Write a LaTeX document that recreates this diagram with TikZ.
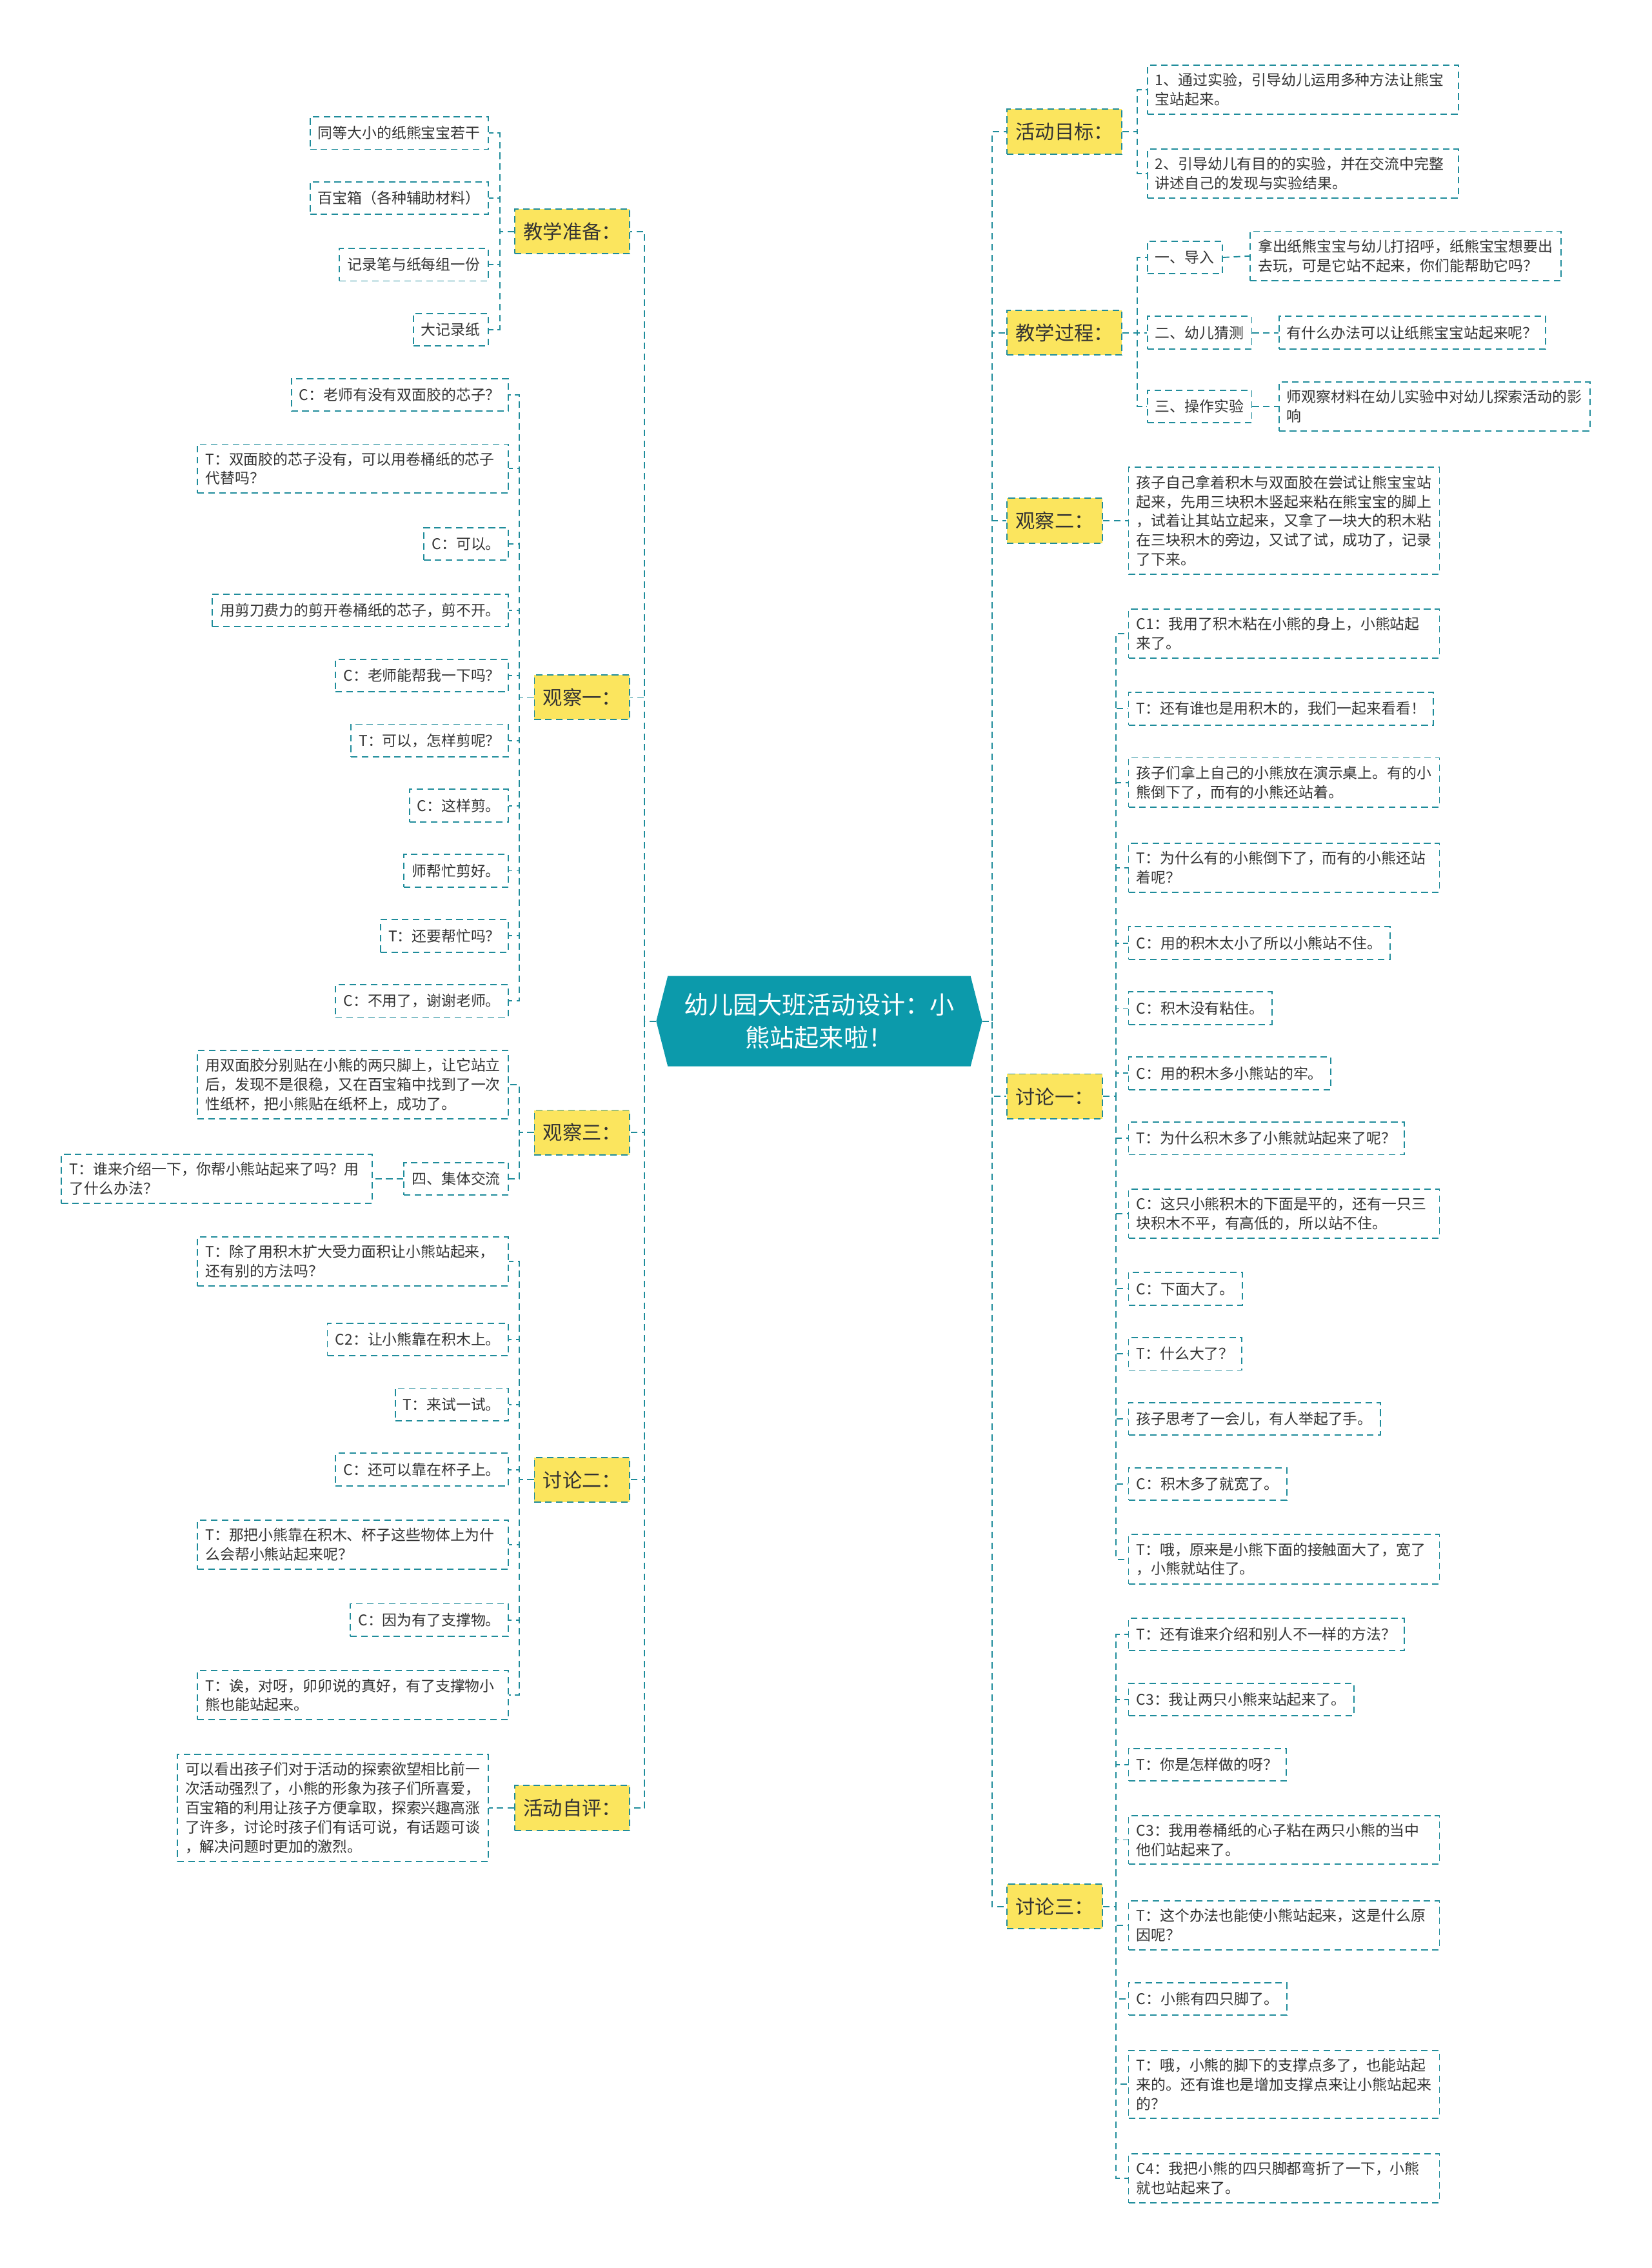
\documentclass[tikz,border=0pt]{standalone}
\usepackage{fontspec}
\newfontfamily\cjk{Noto Sans CJK SC}
\usetikzlibrary{backgrounds,calc}
\definecolor{ln}{HTML}{1F8C9B}
\definecolor{yel}{HTML}{FBE55E}
\definecolor{hub}{HTML}{0C9AAB}
\definecolor{txt}{HTML}{333333}
\begin{document}
\begin{tikzpicture}[x=1pt,y=-1pt,
 conn/.style={draw=ln, line width=0.85pt, dash pattern=on 4.5pt off 3pt},
 leaf/.style={draw=ln, line width=0.85pt, dash pattern=on 4.5pt off 3pt, font=\cjk\fontsize{10.2}{13.3}\selectfont, text=txt, inner xsep=5.5pt, inner ysep=5.5pt, minimum height=22.5pt, align=left},
 wide/.style={leaf, text width=204pt},
 topic/.style={draw=ln, fill=yel, line width=0.85pt, dash pattern=on 4.5pt off 3pt, font=\cjk\fontsize{13.5}{16}\selectfont, text=txt, inner xsep=6pt, minimum height=31pt},
 hubnode/.style={font=\cjk\fontsize{17}{23}\selectfont, text=white, align=center, minimum width=209pt, minimum height=62pt, inner sep=0pt},
 lft/.style={anchor=east}, rgt/.style={anchor=west}
]
\useasboundingbox (0,0) rectangle (1142,1568);

% hub
\node[hubnode] (root) at (566.5,706) {幼儿园大班活动设计：小\\熊站起来啦！};
\begin{scope}[on background layer]
\fill[hub] (root.north west) -- (root.north east) -- ($(root.east)+(8,0)$) -- (root.south east) -- (root.south west) -- ($(root.west)+(-8,0)$) -- cycle;
\end{scope}
\coordinate (rootL) at ($(root.west)+(-8,0)$);
\coordinate (rootR) at ($(root.east)+(8,0)$);

% left topics
\node[topic,lft] (L1) at (436,160) {教学准备：};
\node[topic,lft] (L2) at (436,482) {观察一：};
\node[topic,lft] (L3) at (436,783) {观察三：};
\node[topic,lft] (L4) at (436,1023) {讨论二：};
\node[topic,lft] (L5) at (436,1250) {活动自评：};
% right topics
\node[topic,rgt] (R1) at (696,91) {活动目标：};
\node[topic,rgt] (R2) at (696,230) {教学过程：};
\node[topic,rgt] (R3) at (696,360) {观察二：};
\node[topic,rgt] (R4) at (696,758) {讨论一：};
\node[topic,rgt] (R5) at (696,1318) {讨论三：};

% L1 children
\node[leaf,lft] (a1) at (338,92) {同等大小的纸熊宝宝若干};
\node[leaf,lft] (a2) at (338,137) {百宝箱（各种辅助材料）};
\node[leaf,lft] (a3) at (338,183) {记录笔与纸每组一份};
\node[leaf,lft] (a4) at (338,228) {大记录纸};
% L2 children
\node[leaf,lft] (b1) at (352,273) {C：老师有没有双面胶的芯子？};
\node[wide,lft] (b2) at (352,324) {T：双面胶的芯子没有，可以用卷桶纸的芯子\\代替吗？};
\node[leaf,lft] (b3) at (352,376) {C：可以。};
\node[leaf,lft] (b4) at (352,422) {用剪刀费力的剪开卷桶纸的芯子，剪不开。};
\node[leaf,lft] (b5) at (352,467) {C：老师能帮我一下吗？};
\node[leaf,lft] (b6) at (352,512) {T：可以，怎样剪呢？};
\node[leaf,lft] (b7) at (352,557) {C：这样剪。};
\node[leaf,lft] (b8) at (352,602) {师帮忙剪好。};
\node[leaf,lft] (b9) at (352,647) {T：还要帮忙吗？};
\node[leaf,lft] (b10) at (352,692) {C：不用了，谢谢老师。};
% L3 children
\node[wide,lft] (c1) at (352,750) {用双面胶分别贴在小熊的两只脚上，让它站立\\后，发现不是很稳，又在百宝箱中找到了一次\\性纸杯，把小熊贴在纸杯上，成功了。};
\node[leaf,lft] (c2) at (352,815) {四、集体交流};
\node[wide,lft] (c3) at (258,815) {T：谁来介绍一下，你帮小熊站起来了吗？用\\了什么办法？};
% L4 children
\node[wide,lft] (d1) at (352,872) {T：除了用积木扩大受力面积让小熊站起来，\\还有别的方法吗？};
\node[leaf,lft] (d2) at (352,926) {C2：让小熊靠在积木上。};
\node[leaf,lft] (d3) at (352,971) {T：来试一试。};
\node[leaf,lft] (d4) at (352,1016) {C：还可以靠在杯子上。};
\node[wide,lft] (d5) at (352,1068) {T：那把小熊靠在积木、杯子这些物体上为什\\么会帮小熊站起来呢？};
\node[leaf,lft] (d6) at (352,1120) {C：因为有了支撑物。};
\node[wide,lft] (d7) at (352,1172) {T：诶，对呀，卯卯说的真好，有了支撑物小\\熊也能站起来。};
% L5 child
\node[wide,lft] (e1) at (338,1250) {可以看出孩子们对于活动的探索欲望相比前一\\次活动强烈了，小熊的形象为孩子们所喜爱，\\百宝箱的利用让孩子方便拿取，探索兴趣高涨\\了许多，讨论时孩子们有话可说，有话题可谈\\，解决问题时更加的激烈。};

% R1 children
\node[wide,rgt] (f1) at (793,62) {1、通过实验，引导幼儿运用多种方法让熊宝\\宝站起来。};
\node[wide,rgt] (f2) at (793,120) {2、引导幼儿有目的的实验，并在交流中完整\\讲述自己的发现与实验结果。};
% R2 children
\node[leaf,rgt] (g1) at (793,178) {一、导入};
\node[wide,rgt] (g1a) at (864,177) {拿出纸熊宝宝与幼儿打招呼，纸熊宝宝想要出\\去玩，可是它站不起来，你们能帮助它吗？};
\node[leaf,rgt] (g2) at (793,230) {二、幼儿猜测};
\node[leaf,rgt] (g2a) at (884,230) {有什么办法可以让纸熊宝宝站起来呢？};
\node[leaf,rgt] (g3) at (793,281) {三、操作实验};
\node[wide,rgt] (g3a) at (884,281) {师观察材料在幼儿实验中对幼儿探索活动的影\\响};
% R3 child
\node[wide,rgt] (h1) at (780,360) {孩子自己拿着积木与双面胶在尝试让熊宝宝站\\起来，先用三块积木竖起来粘在熊宝宝的脚上\\，试着让其站立起来，又拿了一块大的积木粘\\在三块积木的旁边，又试了试，成功了，记录\\了下来。};
% R4 children
\node[wide,rgt] (i1) at (780,438) {C1：我用了积木粘在小熊的身上，小熊站起\\来了。};
\node[leaf,rgt] (i2) at (780,490) {T：还有谁也是用积木的，我们一起来看看！};
\node[wide,rgt] (i3) at (780,541) {孩子们拿上自己的小熊放在演示桌上。有的小\\熊倒下了，而有的小熊还站着。};
\node[wide,rgt] (i4) at (780,600) {T：为什么有的小熊倒下了，而有的小熊还站\\着呢？};
\node[leaf,rgt] (i5) at (780,652) {C：用的积木太小了所以小熊站不住。};
\node[leaf,rgt] (i6) at (780,697) {C：积木没有粘住。};
\node[leaf,rgt] (i7) at (780,742) {C：用的积木多小熊站的牢。};
\node[leaf,rgt] (i8) at (780,787) {T：为什么积木多了小熊就站起来了呢？};
\node[wide,rgt] (i9) at (780,839) {C：这只小熊积木的下面是平的，还有一只三\\块积木不平，有高低的，所以站不住。};
\node[leaf,rgt] (i10) at (780,891) {C：下面大了。};
\node[leaf,rgt] (i11) at (780,936) {T：什么大了？};
\node[leaf,rgt] (i12) at (780,981) {孩子思考了一会儿，有人举起了手。};
\node[leaf,rgt] (i13) at (780,1026) {C：积木多了就宽了。};
\node[wide,rgt] (i14) at (780,1078) {T：哦，原来是小熊下面的接触面大了，宽了\\，小熊就站住了。};
% R5 children
\node[leaf,rgt] (j1) at (780,1130) {T：还有谁来介绍和别人不一样的方法？};
\node[leaf,rgt] (j2) at (780,1175) {C3：我让两只小熊来站起来了。};
\node[leaf,rgt] (j3) at (780,1220) {T：你是怎样做的呀？};
\node[wide,rgt] (j4) at (780,1272) {C3：我用卷桶纸的心子粘在两只小熊的当中\\他们站起来了。};
\node[wide,rgt] (j5) at (780,1331) {T：这个办法也能使小熊站起来，这是什么原\\因呢？};
\node[leaf,rgt] (j6) at (780,1382) {C：小熊有四只脚了。};
\node[wide,rgt] (j7) at (780,1441) {T：哦，小熊的脚下的支撑点多了，也能站起\\来的。还有谁也是增加支撑点来让小熊站起来\\的？};
\node[wide,rgt] (j8) at (780,1506) {C4：我把小熊的四只脚都弯折了一下，小熊\\就也站起来了。};

% connectors: hub to topics
\foreach \n in {L1,L2,L3,L4,L5} \draw[conn] (rootL) -- ++(-8,0) |- (\n.east);
\foreach \n in {R1,R2,R3,R4,R5} \draw[conn] (rootR) -- ++(7,0) |- (\n.west);
% left topics to children
\foreach \c in {a1,a2,a3,a4} \draw[conn] (L1.west) -- ++(-10,0) |- (\c.east);
\foreach \c in {b1,b2,b3,b4,b5,b6,b7,b8,b9,b10} \draw[conn] (L2.west) -- ++(-10,0) |- (\c.east);
\foreach \c in {c1,c2} \draw[conn] (L3.west) -- ++(-10,0) |- (\c.east);
\draw[conn] (c2.west) -- (c3.east);
\foreach \c in {d1,d2,d3,d4,d5,d6,d7} \draw[conn] (L4.west) -- ++(-10,0) |- (\c.east);
\draw[conn] (L5.west) -- (e1.east);
% right topics to children
\foreach \c in {f1,f2} \draw[conn] (R1.east) -- ++(10,0) |- (\c.west);
\foreach \c in {g1,g2,g3} \draw[conn] (R2.east) -- ++(10,0) |- (\c.west);
\draw[conn] (g1.east) -- (g1a.west);
\draw[conn] (g2.east) -- (g2a.west);
\draw[conn] (g3.east) -- (g3a.west);
\draw[conn] (R3.east) -- (h1.west);
\foreach \c in {i1,i2,i3,i4,i5,i6,i7,i8,i9,i10,i11,i12,i13,i14} \draw[conn] (R4.east) -- ++(9,0) |- (\c.west);
\foreach \c in {j1,j2,j3,j4,j5,j6,j7,j8} \draw[conn] (R5.east) -- ++(9,0) |- (\c.west);
\end{tikzpicture}
\end{document}
